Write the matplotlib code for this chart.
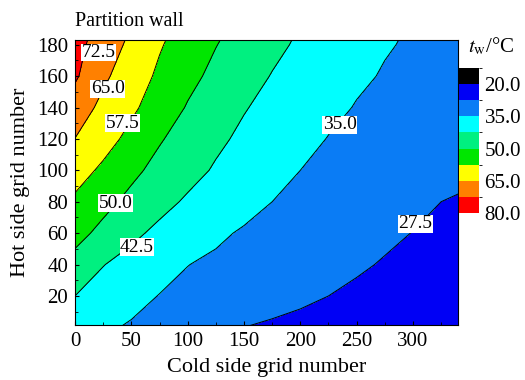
import numpy as np
import matplotlib
matplotlib.use('Agg')
import matplotlib.pyplot as plt
from matplotlib.colors import ListedColormap, BoundaryNorm
from matplotlib.ticker import MultipleLocator

plt.rcParams['font.family'] = ['Liberation Serif', 'DejaVu Serif']
plt.rcParams['mathtext.fontset'] = 'stix'

# Wall temperature t_w (°C) on a coarse grid
cold_grid = [0, 25, 50, 75, 100, 125, 150, 175, 200, 225, 250, 275, 300, 325, 350]
hot_grid = [0, 20, 40, 60, 80, 100, 120, 140, 160, 180, 200]
t_wall = [
    [37.5, 36.0, 34.3, 32.6, 30.9, 29.2, 27.5, 26.6, 25.8, 25.0, 24.3, 23.6, 23.0, 22.5, 22.0],
    [42.5, 39.8, 37.1, 34.8, 33.5, 32.3, 31.1, 29.9, 28.7, 27.5, 26.5, 25.6, 24.8, 24.0, 23.3],
    [47.7, 42.7, 40.1, 37.6, 35.1, 33.9, 32.8, 31.6, 30.5, 29.4, 28.2, 27.1, 26.2, 25.3, 24.5],
    [52.2, 48.2, 44.0, 40.9, 38.5, 36.1, 34.3, 33.2, 32.0, 30.8, 29.7, 28.5, 27.4, 26.5, 25.6],
    [56.3, 52.0, 48.2, 44.6, 41.6, 39.4, 37.2, 35.0, 33.8, 32.5, 31.3, 30.0, 28.8, 27.5, 26.6],
    [60.5, 56.2, 51.6, 47.9, 44.7, 41.8, 39.5, 37.2, 35.0, 33.9, 32.9, 31.9, 30.8, 29.8, 28.8],
    [64.9, 60.3, 55.5, 50.6, 47.1, 43.8, 41.2, 39.0, 36.8, 34.8, 34.0, 33.1, 32.2, 31.4, 30.5],
    [68.9, 63.2, 58.8, 54.0, 49.5, 46.2, 42.9, 40.6, 38.5, 36.4, 34.7, 33.9, 33.0, 32.2, 31.4],
    [73.5, 66.3, 61.1, 56.3, 51.9, 48.3, 45.2, 42.2, 40.1, 38.0, 35.9, 34.6, 33.8, 33.0, 32.2],
    [75.0, 68.7, 63.5, 58.1, 54.1, 50.2, 47.1, 44.1, 41.5, 39.5, 37.4, 35.4, 34.4, 33.6, 32.9],
    [76.5, 71.0, 65.9, 59.9, 56.3, 52.1, 49.0, 46.0, 43.0, 41.0, 38.9, 36.2, 35.0, 34.2, 33.6],
]

levels = [12.5, 20.0, 27.5, 35.0, 42.5, 50.0, 57.5, 65.0, 72.5, 80.0]
level_colors = ['#000000', '#0000f5', '#0a7cf5', '#00ffff', '#00f080',
                '#00e600', '#ffff00', '#ff8000', '#ff0000']
line_levels = [27.5, 35.0, 42.5, 50.0, 57.5, 65.0, 72.5]
cbar_ticks = [20.0, 35.0, 50.0, 65.0, 80.0]

# contour labels: (text, cold side, hot side)
labels = [('72.5', 21, 175), ('65.0', 29, 152), ('57.5', 42, 130),
          ('50.0', 36, 79), ('42.5', 55, 51), ('35.0', 235, 129),
          ('27.5', 302, 66)]

X, Y = np.meshgrid(cold_grid, hot_grid)
Z = np.array(t_wall)

cmap = ListedColormap(level_colors)
norm = BoundaryNorm(levels, cmap.N)

fig = plt.figure(figsize=(5.25, 3.8), dpi=100)
ax = fig.add_axes([0.1429, 0.1447, 0.7295, 0.75])
cs = ax.contourf(X, Y, Z, levels=levels, cmap=cmap, norm=norm)
ax.contour(X, Y, Z, levels=line_levels, colors='k', linewidths=0.7)

for txt, x, y in labels:
    ax.text(x, y, txt, ha='center', va='center', fontsize=14,
            bbox=dict(facecolor='white', edgecolor='none', pad=0.3))

ax.set_xlim(0, 340)
ax.set_ylim(1.5, 183)
ax.xaxis.set_major_locator(MultipleLocator(50))
ax.xaxis.set_minor_locator(MultipleLocator(25))
ax.yaxis.set_major_locator(MultipleLocator(20))
ax.yaxis.set_minor_locator(MultipleLocator(10))
ax.tick_params(which='both', direction='in', top=False, right=False,
               labelsize=15, pad=5)
ax.tick_params(which='major', length=3)
ax.tick_params(which='minor', length=2)
ax.set_yticks([20, 40, 60, 80, 100, 120, 140, 160, 180])
ax.set_xlabel('Cold side grid number', fontsize=16, labelpad=5)
ax.set_ylabel('Hot side grid number', fontsize=16, labelpad=5)
ax.set_title('Partition wall', fontsize=14.5, loc='left', pad=10)

cax = fig.add_axes([0.8743, 0.4395, 0.038, 0.3816])
cb = fig.colorbar(cs, cax=cax, ticks=cbar_ticks)
cb.outline.set_visible(False)
cax.invert_yaxis()
cax.tick_params(length=0, labelsize=15, pad=4)
cb.set_ticklabels([f'{t:.1f}' for t in cbar_ticks])
fig.text(0.935, 0.85, r'$t_{\rm w}$/°C', ha='center', va='bottom', fontsize=15)

fig.savefig('out.png', dpi=100)
